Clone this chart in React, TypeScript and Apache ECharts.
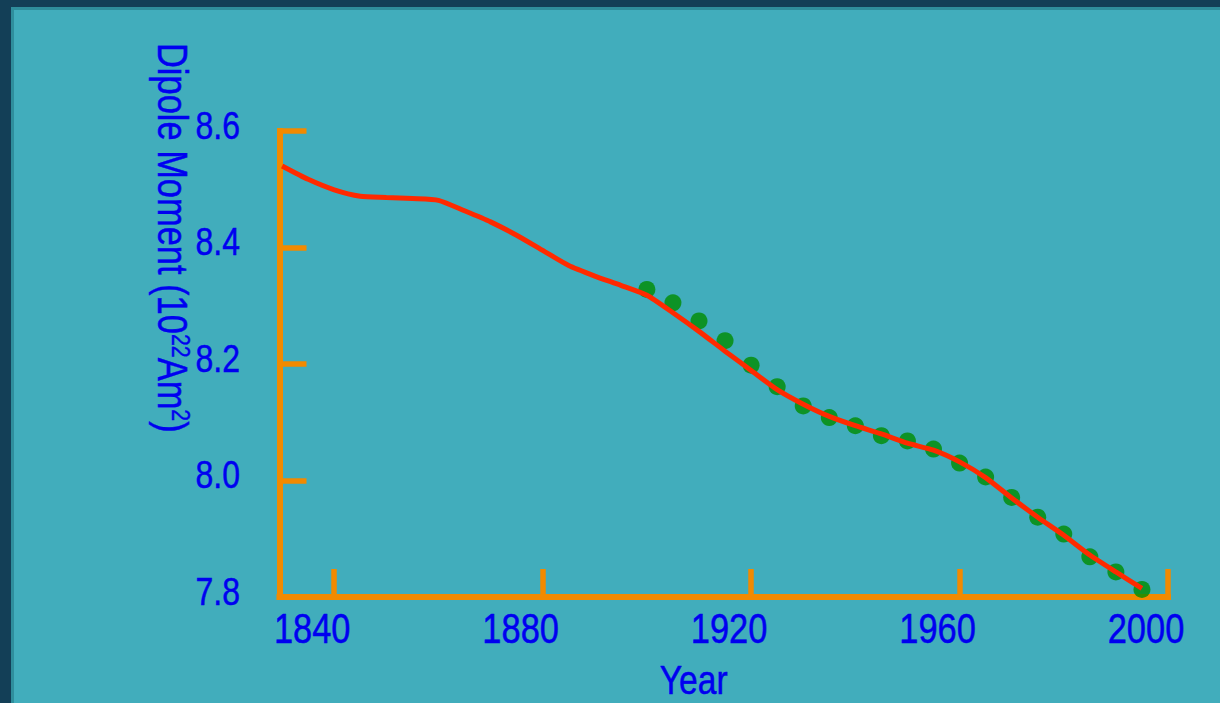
import React, { useEffect, useRef } from "react";
import * as echarts from "echarts";

// Model curve of the geomagnetic dipole moment (10^22 Am^2)
const curveYears = [
  1830, 1835, 1840, 1845, 1850, 1855, 1860, 1865, 1870, 1875, 1880, 1885, 1890,
  1895, 1900, 1905, 1910, 1915, 1920, 1925, 1930, 1935, 1940, 1945, 1950, 1955,
  1960, 1965, 1970, 1975, 1980, 1985, 1990, 1995,
];
const curveValues = [
  8.54, 8.517, 8.499, 8.488, 8.486, 8.484, 8.481, 8.463, 8.444, 8.421, 8.395,
  8.369, 8.351, 8.335, 8.318, 8.288, 8.256, 8.222, 8.189, 8.156, 8.131, 8.11,
  8.094, 8.08, 8.064, 8.052, 8.032, 8.005, 7.97, 7.937, 7.906, 7.872, 7.843,
  7.815,
];

// Observed values
const obsYears = [
  1900, 1905, 1910, 1915, 1920, 1925, 1930, 1935, 1940, 1945, 1950, 1955, 1960,
  1965, 1970, 1975, 1980, 1985, 1990, 1995,
];
const obsValues = [
  8.328, 8.305, 8.274, 8.24, 8.198, 8.161, 8.128, 8.108, 8.094, 8.077, 8.068,
  8.054, 8.03, 8.006, 7.971, 7.937, 7.908, 7.869, 7.843, 7.813,
];

const xTicks = [1840, 1880, 1920, 1960, 2000];
const yTicks = [7.8, 8.0, 8.2, 8.4, 8.6];
const xTitle = "Year";
const yTitle = "Dipole Moment (10{sup|22}Am{sup|2})";

const FONT = "'Liberation Sans', Arial, sans-serif";
// narrow-face look: regular sans squeezed horizontally
const NARROW = 0.82;
const BLUE = "#0000f0";
const ORANGE = "#f28a00";
const TEAL = "#41adbc";
const DARK = "#133f57";
const EDGE = "#2f8e9c";

export default function App() {
  const ref = useRef<HTMLDivElement>(null);

  useEffect(() => {
    if (!ref.current) return;
    const chart = echarts.init(ref.current, null, { renderer: "svg" });

    chart.setOption({
      animation: false,
      backgroundColor: TEAL,
      grid: {
        left: 279.5,
        right: 52,
        top: 131,
        bottom: 106,
        containLabel: false,
        outerBoundsMode: "none",
      },
      xAxis: {
        type: "value",
        min: 1829.5,
        max: 2000,
        splitLine: { show: false },
        axisLine: { show: true, onZero: false, lineStyle: { color: ORANGE, width: 6, cap: "square" } },
        axisTick: {
          show: true,
          inside: true,
          length: 28,
          customValues: xTicks,
          lineStyle: { color: ORANGE, width: 5.5 },
        },
        axisLabel: { show: false, customValues: xTicks },
      },
      yAxis: {
        type: "value",
        min: 7.8,
        max: 8.6,
        splitLine: { show: false },
        axisLine: { show: true, onZero: false, lineStyle: { color: ORANGE, width: 6, cap: "square" } },
        axisTick: {
          show: true,
          inside: true,
          length: 27,
          customValues: yTicks,
          lineStyle: { color: ORANGE, width: 5.5 },
        },
        axisLabel: { show: false, customValues: yTicks },
      },
      series: [
        {
          type: "scatter",
          data: obsYears.map((y, i) => [y, obsValues[i]]),
          symbol: "circle",
          symbolSize: 17,
          itemStyle: { color: "#008c00" },
          z: 2,
        },
        {
          type: "line",
          data: curveYears.map((y, i) => [y, curveValues[i]]),
          showSymbol: false,
          smooth: 0.2,
          lineStyle: { color: "#ff2a00", width: 5 },
          z: 3,
        },
      ],
    });

    // tick labels and titles, placed through the axes' own scales
    const px = (v: number) => chart.convertToPixel({ xAxisIndex: 0 }, v) as number;
    const py = (v: number) => chart.convertToPixel({ yAxisIndex: 0 }, v) as number;
    const x0 = px(1829.5);
    const x1 = px(2000);
    const yBase = py(7.8);

    const textStyle = (text: string, size: number, align: string, lh = size) => ({
      text,
      fill: BLUE,
      stroke: BLUE,
      lineWidth: 0.5,
      fontFamily: FONT,
      fontSize: size,
      lineHeight: lh,
      align,
      verticalAlign: "middle",
    });

    const xLabels = xTicks.map((v) => ({
      type: "text",
      x: px(v) - 22,
      y: yBase + 31.5,
      scaleX: NARROW,
      style: textStyle(String(v), 42, "center"),
    }));
    const yLabels = yTicks.map((v) => ({
      type: "text",
      x: x0 - 39.5,
      y: py(v) - 5.5,
      scaleX: NARROW,
      style: textStyle(v.toFixed(1), 39, "right"),
    }));

    chart.setOption({
      graphic: [
        { type: "rect", z: 0, shape: { x: 0, y: 0, width: 1220, height: 7 }, style: { fill: DARK } },
        { type: "rect", z: 0, shape: { x: 0, y: 0, width: 11, height: 703 }, style: { fill: DARK } },
        { type: "rect", z: 0, shape: { x: 11, y: 7, width: 1209, height: 3 }, style: { fill: EDGE } },
        { type: "rect", z: 0, shape: { x: 11, y: 7, width: 3, height: 696 }, style: { fill: EDGE } },
        ...xLabels,
        ...yLabels,
        {
          type: "text",
          x: (x0 + x1) / 2 - 30,
          y: yBase + 82.5,
          scaleX: NARROW,
          style: textStyle(xTitle, 41, "center", 30),
        },
        {
          type: "text",
          x: 173,
          y: 43,
          rotation: -Math.PI / 2,
          scaleX: NARROW,
          style: {
            ...textStyle(yTitle, 42, "left"),
            rich: {
              sup: {
                fontFamily: FONT,
                fontSize: 26,
                fill: BLUE,
                stroke: BLUE,
                lineWidth: 0.4,
                lineHeight: 42,
                padding: [0, 0, 16, 0],
              },
            },
          },
        },
      ],
    });

    return () => chart.dispose();
  }, []);

  return (
    <div
      ref={ref}
      style={{ position: "fixed", left: 0, top: 0, width: 1220, height: 703 }}
    />
  );
}
